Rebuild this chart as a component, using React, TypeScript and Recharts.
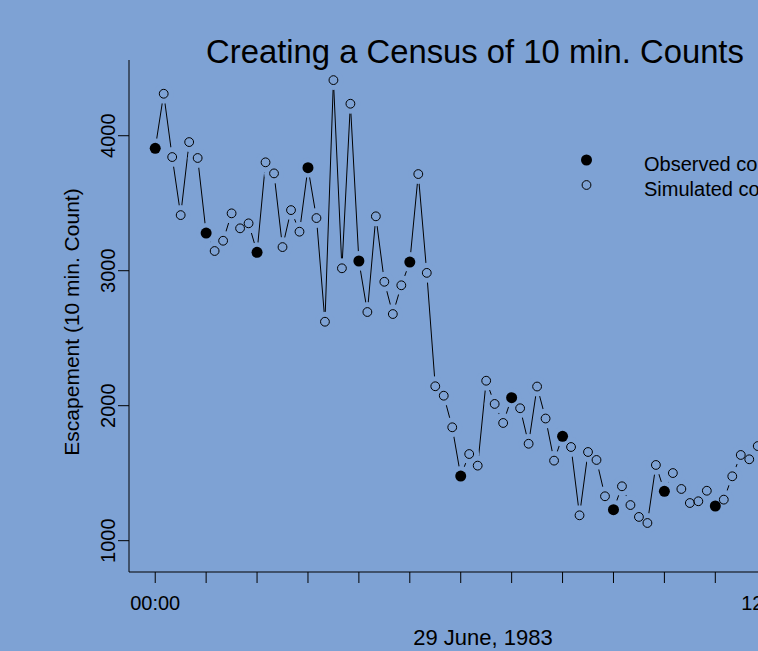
import React from 'react';
import { LineChart, Line, XAxis, YAxis, Label } from 'recharts';

const BG = '#7ea2d4';
const FONT = '"Liberation Sans", Arial, Helvetica, sans-serif';

// 10 min. counts from 00:00 onwards, 29 June 1983
const escapement = [
  3907, 4311, 3842, 3412, 3953, 3835, 3279, 3146, 3222, 3425,
  3314, 3351, 3136, 3803, 3721, 3175, 3449, 3289, 3763, 3390,
  2622, 4412, 3018, 4237, 3072, 2694, 3403, 2918, 2679, 2892,
  3064, 3716, 2984, 2144, 2074, 1840, 1479, 1642, 1556, 2185,
  2013, 1872, 2059, 1981, 1718, 2142, 1905, 1593, 1773, 1694,
  1188, 1657, 1598, 1329, 1230, 1403, 1264, 1176, 1131, 1561,
  1366, 1501, 1383, 1279, 1292, 1370, 1257, 1304, 1477, 1635,
  1603, 1701,
];

// hours where the count was actually observed (the rest are simulated)
const observedHours = [0, 1, 2, 3, 4, 5, 6, 7, 8, 9, 10, 11];

const hourTicks = [0, 1, 2, 3, 4, 5, 6, 7, 8, 9, 10, 11, 12, 13];
const hourLabels: Record<number, string> = { 0: '00:00', 12: '12:00' };
const yTicks = [1000, 2000, 3000, 4000];
const legendLabels = ['Observed counts', 'Simulated counts'];

const data = escapement.map((count, i) => ({
  hour: i / 6,
  count,
  observed: observedHours.includes(i / 6),
}));

const YTick = ({ x, y, payload }: any) => (
  <text
    x={x}
    y={y}
    transform={`rotate(-90, ${x}, ${y})`}
    textAnchor='middle'
    fontSize={20}
    fontFamily={FONT}
    fill='#000'
  >
    {payload.value}
  </text>
);

const YTitle = ({ viewBox }: any) => {
  const cy = viewBox ? viewBox.y + viewBox.height / 2 + 6 : 322;
  const x = 79;
  return (
    <text x={x} y={cy} transform={`rotate(-90, ${x}, ${cy})`} textAnchor='middle' fontSize={21} fontFamily={FONT} fill='#000'>
      Escapement (10 min. Count)
    </text>
  );
};

const XTitle = ({ viewBox }: any) => {
  const cx = viewBox ? viewBox.x + viewBox.width / 2 : 483;
  const y = viewBox ? viewBox.y + 73 : 645;
  return (
    <text x={cx} y={y} textAnchor='middle' fontSize={22} fontFamily={FONT} fill='#000'>
      29 June, 1983
    </text>
  );
};

// blank disc behind each point so the line stops short of it (like R's type="b")
const GapDot = ({ cx, cy, index }: any) => <circle key={`gap-${index}`} cx={cx} cy={cy} r={10} fill={BG} />;

const PointDot = ({ cx, cy, index, payload }: any) =>
  payload.observed ? (
    <circle key={`pt-${index}`} cx={cx} cy={cy} r={5.5} fill='#000' />
  ) : (
    <circle key={`pt-${index}`} cx={cx} cy={cy} r={4.4} fill='none' stroke='#000' strokeWidth={1} />
  );

export default function App() {
  return (
    <div
      style={{
        position: 'fixed',
        left: 0,
        top: 0,
        width: 758,
        height: 651,
        overflow: 'hidden',
        background: BG,
        fontFamily: FONT,
      }}
    >
      <LineChart width={900} height={651} data={data} margin={{ top: 60, right: 63, bottom: 0, left: 0 }}>
        <XAxis
          type='number'
          dataKey='hour'
          domain={[-0.515, 13.39]}
          ticks={hourTicks}
          interval={0}
          allowDataOverflow
          tickFormatter={(h: number) => hourLabels[h] || ''}
          height={79}
          tickSize={11}
          tickMargin={13}
          stroke='#000'
          tick={{ fill: '#000', fontSize: 20, fontFamily: FONT }}
        >
          <Label content={XTitle} />
        </XAxis>
        <YAxis
          type='number'
          domain={[768, 4561]}
          ticks={yTicks}
          interval={0}
          allowDataOverflow
          width={129}
          tickSize={11}
          tickMargin={3}
          stroke='#000'
          tick={<YTick />}
        >
          <Label content={YTitle} />
        </YAxis>
        <Line
          dataKey='count'
          stroke='#000'
          strokeWidth={1}
          dot={GapDot}
          activeDot={false}
          isAnimationActive={false}
        />
        <Line
          dataKey='count'
          stroke='none'
          dot={PointDot}
          activeDot={false}
          isAnimationActive={false}
        />
      </LineChart>
      <svg width={758} height={651} style={{ position: 'absolute', left: 0, top: 0 }}>
        <text x={475} y={63} textAnchor='middle' fontSize={32.8} fontFamily={FONT} fill='#000'>
          Creating a Census of 10 min. Counts
        </text>
        <circle cx={586.5} cy={160} r={5.5} fill='#000' />
        <circle cx={586.5} cy={185} r={4.4} fill='none' stroke='#000' strokeWidth={1} />
        <text x={644} y={171} fontSize={20} fontFamily={FONT} fill='#000'>
          {legendLabels[0]}
        </text>
        <text x={644} y={196} fontSize={20} fontFamily={FONT} fill='#000'>
          {legendLabels[1]}
        </text>
      </svg>
    </div>
  );
}
